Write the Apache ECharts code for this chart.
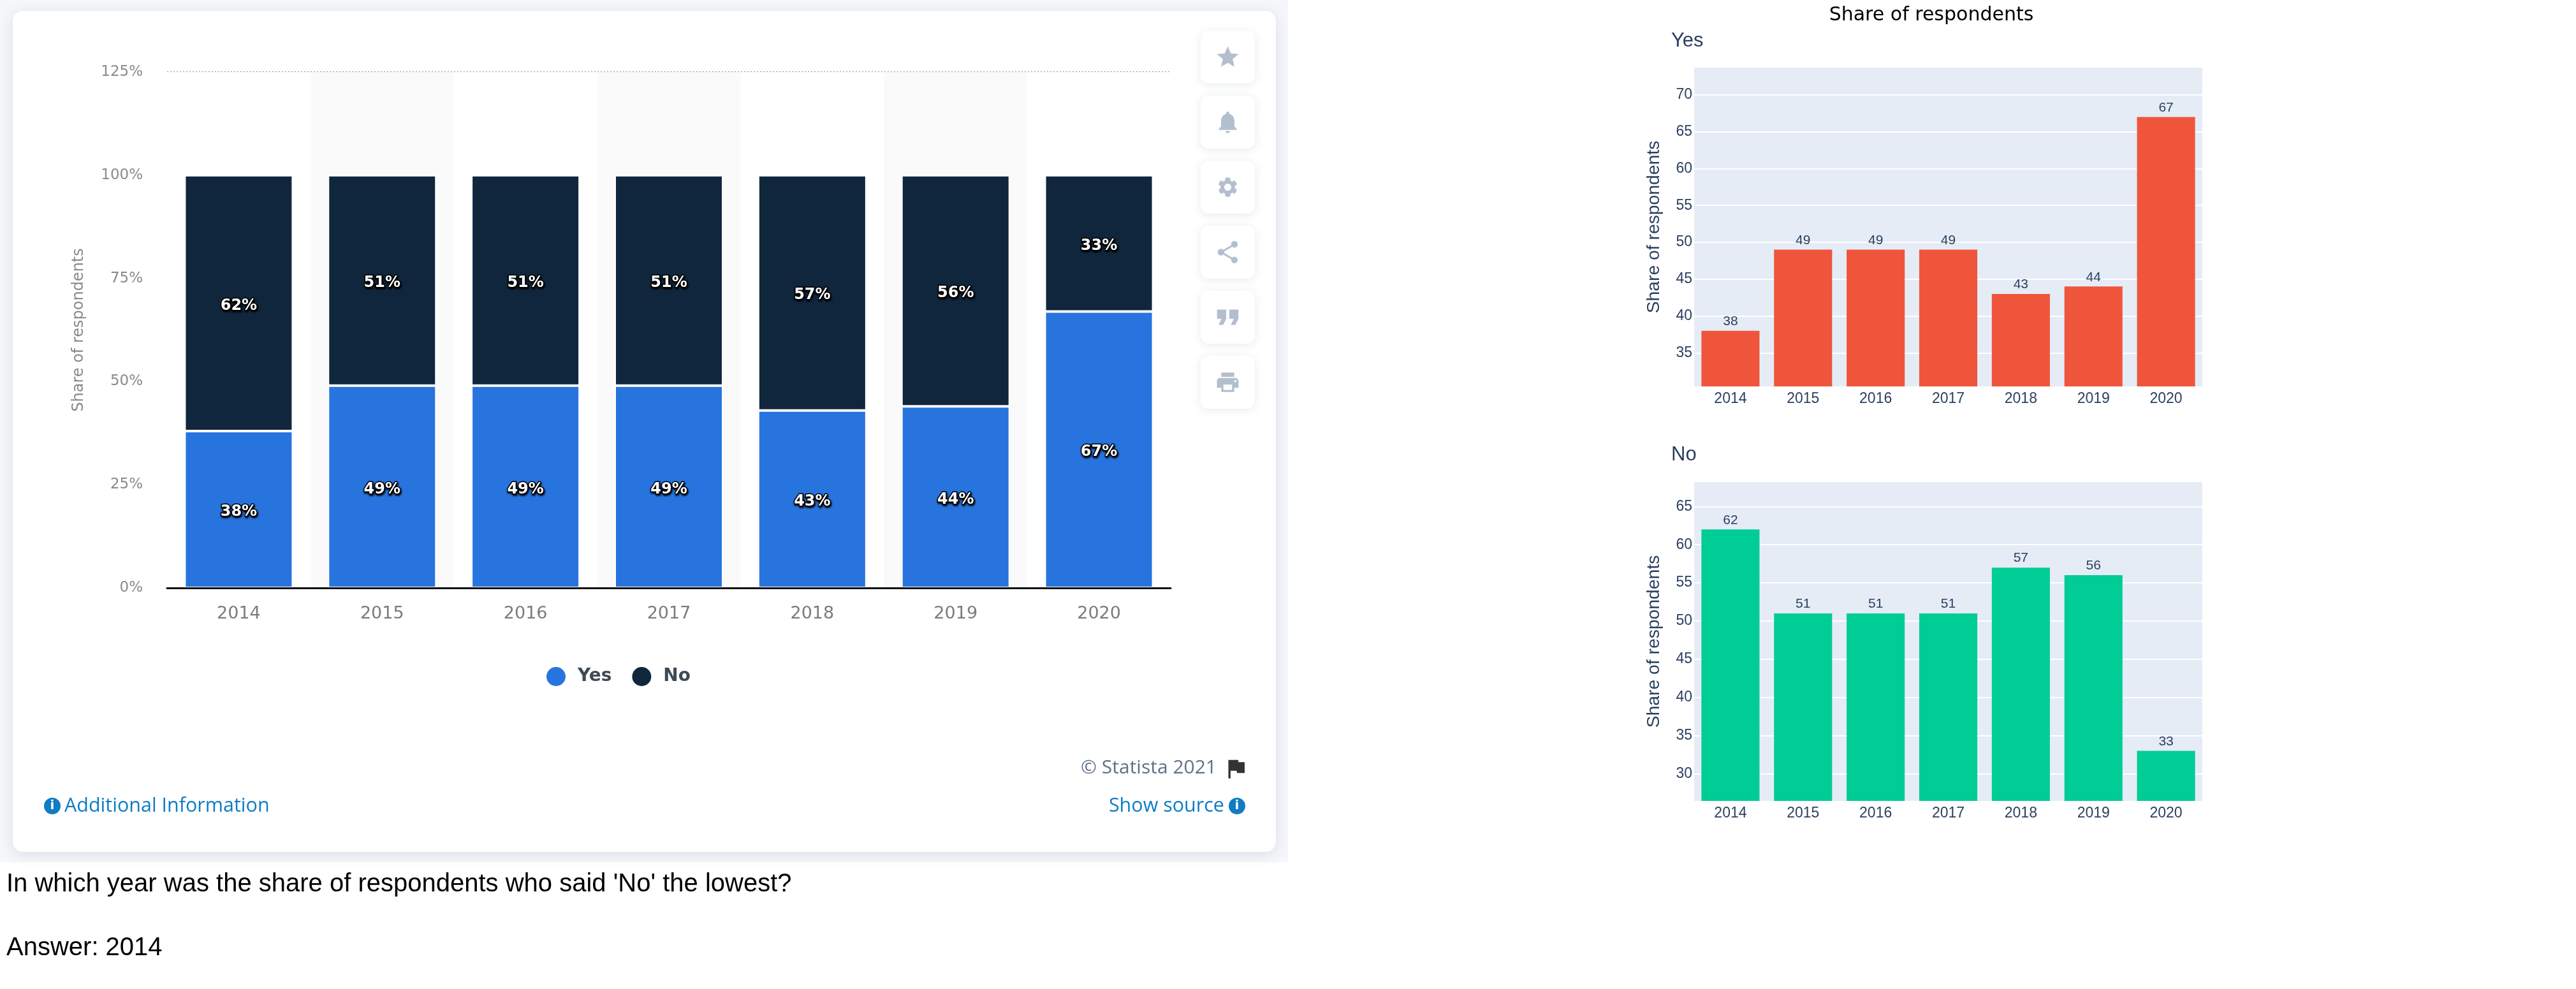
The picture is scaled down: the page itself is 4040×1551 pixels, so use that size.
<!DOCTYPE html>
<html>
<head>
<meta charset="utf-8">
<style>html,body{margin:0;padding:0;background:#fff}#c{width:4040px;height:1551px}</style>
<script src="https://cdn.jsdelivr.net/npm/echarts@6/dist/echarts.min.js"></script>
</head>
<body>
<div id="c"></div>
<script>
const years = ['2014','2015','2016','2017','2018','2019','2020'];
const yesValues = [38,49,49,49,43,44,67];
const noValues = [62,51,51,51,57,56,33];
const leftTicks = [0,25,50,75,100,125];
const yesTicks = [35,40,45,50,55,60,65,70];
const noTicks = [30,35,40,45,50,55,60,65];
const axisTitle = 'Share of respondents';
const question = "In which year was the share of respondents who said 'No' the lowest?";
const answer = 'Answer: 2014';

const ICONS = {
  star:'M12 17.27L18.18 21l-1.64-7.03L22 9.24l-7.19-.61L12 2 9.19 8.63 2 9.24l5.46 4.73L5.82 21z',
  bell:'M12 22c1.1 0 2-.9 2-2h-4c0 1.1.9 2 2 2zm6-6v-5c0-3.07-1.63-5.64-4.5-6.32V4c0-.83-.67-1.5-1.5-1.5s-1.5.67-1.5 1.5v.68C7.64 5.36 6 7.92 6 11v5l-2 2v1h16v-1l-2-2z',
  gear:'M19.14 12.94c.04-.3.06-.61.06-.94 0-.32-.02-.64-.07-.94l2.03-1.58c.18-.14.23-.41.12-.61l-1.92-3.32c-.12-.22-.37-.29-.59-.22l-2.39.96c-.5-.38-1.03-.7-1.62-.94l-.36-2.54c-.04-.24-.24-.41-.48-.41h-3.84c-.24 0-.43.17-.47.41l-.36 2.54c-.59.24-1.13.57-1.62.94l-2.39-.96c-.22-.08-.47 0-.59.22L2.74 8.87c-.12.21-.08.47.12.61l2.03 1.58c-.05.3-.09.63-.09.94s.02.64.07.94l-2.03 1.58c-.18.14-.23.41-.12.61l1.92 3.32c.12.22.37.29.59.22l2.39-.96c.5.38 1.03.7 1.62.94l.36 2.54c.05.24.24.41.48.41h3.84c.24 0 .44-.17.47-.41l.36-2.54c.59-.24 1.13-.56 1.62-.94l2.39.96c.22.08.47 0 .59-.22l1.92-3.32c.12-.22.07-.47-.12-.61l-2.01-1.58zM12 15.6c-1.98 0-3.6-1.62-3.6-3.6s1.62-3.6 3.6-3.6 3.6 1.62 3.6 3.6-1.62 3.6-3.6 3.6z',
  share:'M18 16.08c-.76 0-1.44.3-1.96.77L8.91 12.7c.05-.23.09-.46.09-.7s-.04-.47-.09-.7l7.05-4.11c.54.5 1.25.81 2.04.81 1.66 0 3-1.34 3-3s-1.34-3-3-3-3 1.34-3 3c0 .24.04.47.09.7L8.04 9.81C7.5 9.31 6.79 9 6 9c-1.66 0-3 1.34-3 3s1.34 3 3 3c.79 0 1.5-.31 2.04-.81l7.12 4.16c-.05.21-.08.43-.08.65 0 1.61 1.31 2.92 2.92 2.92s2.92-1.31 2.92-2.92-1.31-2.92-2.92-2.92z',
  quote:'M6 17h3l2-4V7H5v6h3zm8 0h3l2-4V7h-6v6h3z',
  print:'M19 8H5c-1.66 0-3 1.34-3 3v6h4v4h12v-4h4v-6c0-1.66-1.34-3-3-3zm-3 11H8v-5h8v5zm3-7c-.55 0-1-.45-1-1s.45-1 1-1 1 .45 1 1-.45 1-1 1zm-1-9H6v4h12V3z',
  flag:'M14.4 6L14 4H5v17h2v-7h5.6l.4 2h7V6z'
};
Object.keys(ICONS).forEach(k=>{
  echarts.graphic.registerShape('ic_'+k, echarts.graphic.extendPath(ICONS[k],{}));
});

const graphics = [
  {type:'rect',z:-20,silent:true,shape:{x:0,y:0,width:2020,height:1352},style:{fill:'#f5f7fa'}},
  {type:'rect',z:-19,silent:true,shape:{x:20,y:17,width:1981,height:1319,r:16},
   style:{fill:'#fff',shadowBlur:22,shadowColor:'rgba(60,80,110,0.14)',shadowOffsetY:4}}
];
[['star',1.7],['bell',1.75],['gear',1.55],['share',1.75],['quote',2.4],['print',1.7]].forEach(([k,s],i)=>{
  const top = 48 + i*102;
  graphics.push({type:'rect',z:5,silent:true,shape:{x:1883,y:top,width:85,height:83,r:12},
    style:{fill:'#fff',shadowBlur:14,shadowColor:'rgba(60,80,110,0.12)',shadowOffsetY:2}});
  graphics.push({type:'ic_'+k,z:6,silent:true,x:1925.5-12*s,y:top+41.5-12*s,scaleX:s,scaleY:s,
    style:{fill:'#b4bfce'}});
});
graphics.push({type:'ic_flag',z:6,silent:true,x:1918,y:1185,scaleX:1.7,scaleY:1.7,style:{fill:'#333'}});
function infoIcon(cx){
  graphics.push({type:'circle',z:6,silent:true,shape:{cx:cx,cy:1264,r:13},style:{fill:'#0f7cc4'}});
  graphics.push({type:'text',z:7,silent:true,style:{x:cx,y:1264,text:'i',fill:'#fff',align:'center',verticalAlign:'middle',font:'bold 20px "DejaVu Sans"'}});
}
infoIcon(82); infoIcon(1940);
function note(x,y,text,fill,size,align){
  graphics.push({type:'text',z:6,silent:true,style:{x:x,y:y,text:text,fill:fill,align:align,verticalAlign:'middle',font:size+'px "Open Sans"'}});
}
note(1908,1204,'© Statista 2021','#5f7187',30,'right');
note(101,1264,'Additional Information','#0f7cc4',30.5,'left');
note(1920,1264,'Show source','#0f7cc4',30.5,'right');
function plain(x,y,text){
  graphics.push({type:'text',z:6,silent:true,style:{x:x,y:y,text:text,fill:'#000',align:'left',verticalAlign:'middle',font:'40px "Liberation Sans"'}});
}
plain(10,1387,question);
plain(10,1487,answer);

const PLOTLY_TEXT = '#2a3f5f';
function headTitle(text,x,y,size,color,font,align){
  return {text:text,left:x,top:y,padding:0,textAlign:align||'left',textVerticalAlign:'middle',
    textStyle:{fontSize:size,color:color,fontWeight:'normal',fontFamily:font}};
}
function sideX(gridIndex){
  return {type:'category',gridIndex:gridIndex,data:years,
    axisLine:{show:false},axisTick:{show:false},
    axisLabel:{fontSize:23,color:PLOTLY_TEXT,fontFamily:'Liberation Sans',margin:8},
    splitLine:{show:false}};
}
function sideY(gridIndex,min,max,ticks){
  return {type:'value',gridIndex:gridIndex,min:min,max:max,
    name:axisTitle,nameLocation:'middle',nameGap:49,nameRotate:90,
    nameTextStyle:{fontSize:28.3,color:PLOTLY_TEXT,fontFamily:'Liberation Sans'},
    axisLine:{show:false},
    axisTick:{show:false,customValues:ticks},
    axisLabel:{fontSize:23,color:PLOTLY_TEXT,fontFamily:'Liberation Sans',margin:3,customValues:ticks,showMinLabel:true,showMaxLabel:true},
    splitLine:{show:true,lineStyle:{color:'#fff',width:2}}};
}
function sideSeries(name,xi,values,color){
  return {name:name,type:'bar',xAxisIndex:xi,yAxisIndex:xi,data:values,barCategoryGap:'20%',
    itemStyle:{color:color},
    label:{show:true,position:'top',distance:4,fontSize:21,color:PLOTLY_TEXT,fontFamily:'Liberation Sans'}};
}
function mainSeries(name,values,color){
  return {name:name,type:'bar',stack:'total',xAxisIndex:0,yAxisIndex:0,data:values,barWidth:170,
    itemStyle:{color:color,borderColor:'#fff',borderWidth:2},
    label:{show:true,position:'inside',offset:[0,4],formatter:'{c}%',fontSize:24,fontWeight:'bold',
      fontFamily:'DejaVu Sans',color:'#fff',textBorderColor:'#000',textBorderWidth:3,
      textShadowColor:'#000',textShadowBlur:3,textShadowOffsetX:1,textShadowOffsetY:2}};
}

const option = {
  animation:false,
  backgroundColor:'#fff',
  graphic:{elements:graphics},
  title:[
    headTitle(axisTitle,3029,24,30,'#000','DejaVu Sans','center'),
    headTitle('Yes',2621,64,31,PLOTLY_TEXT,'Liberation Sans'),
    headTitle('No',2621,713,31,PLOTLY_TEXT,'Liberation Sans')
  ],
  legend:{data:['Yes','No'],left:850,top:1039,icon:'circle',itemWidth:32,itemHeight:32,itemGap:30,
    textStyle:{fontSize:28,fontWeight:'bold',color:'#3f4a57',fontFamily:'DejaVu Sans',padding:[0,0,0,13]}},
  grid:[
    {left:262,top:113,width:1574,height:809},
    {left:2657,top:106,width:797,height:500,backgroundColor:'#E5ECF6',show:true,borderWidth:0},
    {left:2657,top:756,width:797,height:500,backgroundColor:'#E5ECF6',show:true,borderWidth:0}
  ],
  xAxis:[
    {type:'category',gridIndex:0,data:years,
      axisLine:{show:false},axisTick:{show:false},
      axisLabel:{fontSize:27,color:'#7c7c7c',fontFamily:'DejaVu Sans',margin:27},
      splitArea:{show:true,areaStyle:{color:['#ffffff','#fafafb']}}},
    sideX(1),sideX(2),
    {type:'category',gridIndex:0,position:'bottom',data:years,z:4,
      axisLine:{show:true,lineStyle:{color:'#111',width:3}},axisTick:{show:false},
      axisLabel:{show:false},splitLine:{show:false},splitArea:{show:false}}
  ],
  yAxis:[
    {type:'value',gridIndex:0,min:0,max:125,interval:25,
      name:axisTitle,nameLocation:'middle',nameGap:126,nameRotate:90,
      nameTextStyle:{fontSize:24,color:'#8a8a8a',fontFamily:'DejaVu Sans'},
      axisLine:{show:false},axisTick:{show:false},
      axisLabel:{fontSize:23,color:'#8a8a8a',fontFamily:'DejaVu Sans',margin:38,
        formatter:v=>leftTicks.includes(v)?v+'%':''},
      splitLine:{lineStyle:{color:'#8f8f8f',width:2,type:[2,3]}}},
    sideY(1,30.45,73.7,yesTicks),
    sideY(2,26.45,68.2,noTicks)
  ],
  series:[
    mainSeries('Yes',yesValues,'#2874de'),
    mainSeries('No',noValues,'#10263d'),
    sideSeries('Yes share',1,yesValues,'#EF553B'),
    sideSeries('No share',2,noValues,'#00CC96')
  ]
};
echarts.init(document.getElementById('c'),null,{renderer:'canvas'}).setOption(option);
</script>
</body>
</html>
